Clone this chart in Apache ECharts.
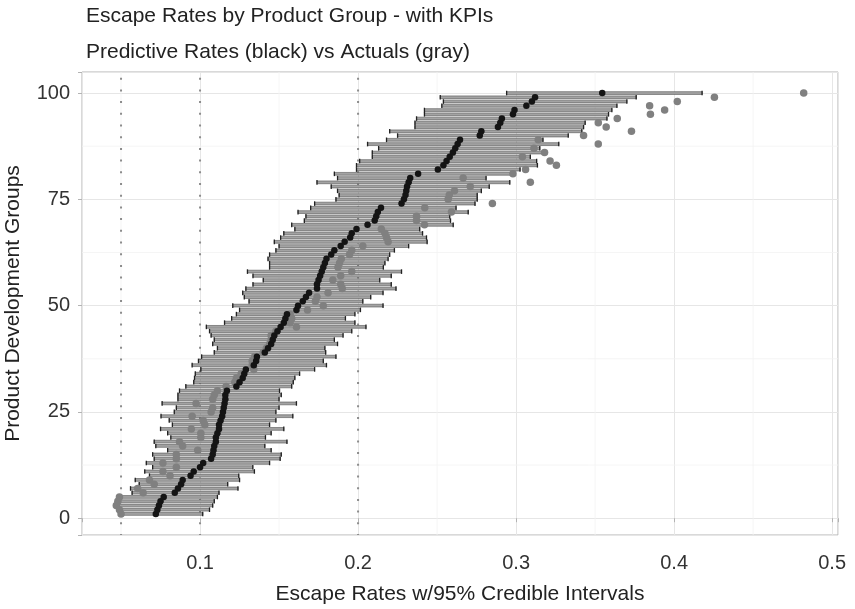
<!DOCTYPE html>
<html>
<head>
<meta charset="utf-8">
<title>Escape Rates by Product Group</title>
<script src="https://cdn.jsdelivr.net/npm/echarts@6/dist/echarts.min.js"></script>
<style>
  html, body { margin: 0; padding: 0; background: #fff; }
  #chart { width: 855px; height: 609px; }
</style>
</head>
<body>
<div id="chart"></div>
<script>
// product development groups 1..100 (row index on the y axis)
const groups = Array.from({ length: 100 }, (_, i) => i + 1);

// predictive rate per group (black dots)
const predicted = [
  0.072, 0.073, 0.074, 0.075, 0.077, 0.084, 0.086, 0.088, 0.089, 0.094,
  0.096, 0.100, 0.102, 0.107, 0.108, 0.1085, 0.109, 0.110, 0.110, 0.111,
  0.112, 0.112, 0.113, 0.114, 0.1145, 0.115, 0.1155, 0.116, 0.116, 0.117,
  0.123, 0.125, 0.127, 0.128, 0.129, 0.134, 0.1355, 0.136, 0.141, 0.143,
  0.145, 0.146, 0.147, 0.149, 0.151, 0.153, 0.154, 0.155, 0.161, 0.162,
  0.165, 0.167, 0.169, 0.174, 0.174, 0.175, 0.176, 0.177, 0.178, 0.179,
  0.180, 0.183, 0.185, 0.189, 0.1915, 0.195, 0.196, 0.199, 0.206, 0.2105,
  0.2115, 0.2125, 0.2145, 0.2275, 0.229, 0.230, 0.2305, 0.231, 0.232, 0.233,
  0.238, 0.2505, 0.254, 0.256, 0.258, 0.260, 0.2615, 0.263, 0.2645, 0.277,
  0.278, 0.2885, 0.290, 0.291, 0.298, 0.299, 0.3065, 0.310, 0.312, 0.3545
];

// 95% credible interval, lower end
const lower = [
  0.049, 0.048, 0.048, 0.048, 0.050, 0.057, 0.056, 0.0615, 0.059, 0.068,
  0.065, 0.070, 0.066, 0.071, 0.070, 0.0795, 0.072, 0.071, 0.0815, 0.0795,
  0.075, 0.0825, 0.0805, 0.0753, 0.0837, 0.085, 0.076, 0.086, 0.086, 0.087,
  0.091, 0.096, 0.0965, 0.097, 0.1005, 0.095, 0.099, 0.101, 0.109, 0.111,
  0.108, 0.109, 0.107, 0.106, 0.104, 0.1155, 0.120, 0.123, 0.125, 0.1207,
  0.131, 0.128, 0.127, 0.129, 0.1335, 0.140, 0.1335, 0.130, 0.144, 0.144,
  0.143, 0.144, 0.148, 0.150, 0.147, 0.151, 0.153, 0.160, 0.158, 0.166,
  0.167, 0.162, 0.170, 0.1725, 0.186, 0.188, 0.187, 0.183, 0.174, 0.187,
  0.185, 0.199, 0.199, 0.201, 0.209, 0.209, 0.213, 0.206, 0.218, 0.225,
  0.220, 0.236, 0.236, 0.237, 0.242, 0.242, 0.253, 0.254, 0.252, 0.294
];

// 95% credible interval, upper end
const upper = [
  0.1017, 0.106, 0.108, 0.109, 0.111, 0.112, 0.124, 0.1175, 0.125, 0.1245,
  0.1344, 0.1334, 0.144, 0.1507, 0.1514, 0.145, 0.141, 0.155, 0.1414, 0.145,
  0.153, 0.144, 0.148, 0.1587, 0.148, 0.150, 0.161, 0.150, 0.1514, 0.1503,
  0.158, 0.159, 0.160, 0.163, 0.1725, 0.180, 0.178, 0.186, 0.1795, 0.179,
  0.187, 0.185, 0.1905, 0.196, 0.205, 0.198, 0.192, 0.198, 0.2015, 0.2158,
  0.203, 0.208, 0.2158, 0.224, 0.221, 0.2137, 0.221, 0.2275, 0.216, 0.217,
  0.219, 0.220, 0.223, 0.232, 0.2437, 0.2433, 0.2408, 0.239, 0.2602, 0.2585,
  0.258, 0.2697, 0.262, 0.274, 0.2754, 0.2754, 0.278, 0.283, 0.296, 0.281,
  0.297, 0.3025, 0.3135, 0.313, 0.309, 0.317, 0.315, 0.327, 0.317, 0.333,
  0.3416, 0.3427, 0.3437, 0.3575, 0.3585, 0.3606, 0.3638, 0.3701, 0.376, 0.4177
];

// actual escape rate per group (gray dots)
const actual = [
  0.050, 0.049, 0.047, 0.048, 0.049, 0.064, 0.0605, 0.071, 0.068, 0.081,
  0.0765, 0.085, 0.0765, 0.085, 0.085, 0.0985, 0.089, 0.087, 0.1005, 0.1005,
  0.0945, 0.103, 0.102, 0.095, 0.107, 0.108, 0.0975, 0.108, 0.109, 0.111,
  0.1165, 0.122, 0.123, 0.126, 0.134, 0.133, 0.133, 0.1345, 0.140, 0.142,
  0.144, 0.145, 0.145, 0.148, 0.161, 0.157, 0.158, 0.157, 0.168, 0.178,
  0.173, 0.174, 0.181, 0.190, 0.189, 0.184, 0.189, 0.196, 0.1873, 0.1883,
  0.1894, 0.1946, 0.196, 0.203, 0.219, 0.218, 0.217, 0.2147, 0.242, 0.237,
  0.237, 0.2591, 0.2422, 0.285, 0.257, 0.2577, 0.261, 0.271, 0.309, 0.2665,
  0.298, 0.306, 0.3255, 0.3215, 0.304, 0.318, 0.3113, 0.352, 0.314, 0.3427,
  0.373, 0.357, 0.352, 0.364, 0.385, 0.394, 0.3845, 0.402, 0.4255, 0.482
];

// KPI reference lines (dotted) and minor grid breaks
const kpiLines = [0.05, 0.1, 0.2];
const xMinor = [0.05, 0.15, 0.25, 0.35, 0.45];
const yMinor = [12.5, 37.5, 62.5, 87.5];

const X_MIN = 0.0253, X_MAX = 0.5037;
const Y_MIN = -3.95, Y_MAX = 104.95;
const FONT = '"Liberation Sans", Arial, Helvetica, sans-serif';

// full-height vertical line at data x
function vLine(style) {
  return function (params, api) {
    const cs = params.coordSys;
    const x = api.coord([api.value(0), Y_MIN])[0];
    return { type: 'line', shape: { x1: x, y1: cs.y, x2: x, y2: cs.y + cs.height }, style: style };
  };
}

// full-width horizontal line at data y
function hLine(style) {
  return function (params, api) {
    const cs = params.coordSys;
    const y = api.coord([X_MIN, api.value(1)])[1];
    return { type: 'line', shape: { x1: cs.x, y1: y, x2: cs.x + cs.width, y2: y }, style: style };
  };
}

function renderInterval(params, api) {
  const g = api.value(2);
  const p0 = api.coord([api.value(0), g]);
  const p1 = api.coord([api.value(1), g]);
  const cap = 2.3;
  return {
    type: 'group',
    children: [
      {
        type: 'rect',
        shape: { x: p0[0], y: p0[1] - 1.4, width: p1[0] - p0[0], height: 2.8 },
        style: { fill: '#a3a3a3', stroke: '#474747', lineWidth: 0.55 }
      },
      {
        type: 'line',
        shape: { x1: p0[0], y1: p0[1] - cap, x2: p0[0], y2: p0[1] + cap },
        style: { stroke: '#222', lineWidth: 1.3 }
      },
      {
        type: 'line',
        shape: { x1: p1[0], y1: p1[1] - cap, x2: p1[0], y2: p1[1] + cap },
        style: { stroke: '#222', lineWidth: 1.3 }
      }
    ]
  };
}

const intervals = groups.map((g, i) => [lower[i], upper[i], g]);
const predPoints = groups.map((g, i) => [predicted[i], g]);
const actualPoints = groups.map((g, i) => [actual[i], g]);

const minorStyle = { stroke: '#f3f3f3', lineWidth: 0.8 };
const kpiStyle = { stroke: '#8c8c8c', lineWidth: 2, lineDash: [2, 9.7], lineDashOffset: 6 };

const option = {
  animation: false,
  backgroundColor: '#fff',
  textStyle: { fontFamily: FONT },
  title: [
    {
      text: 'Escape Rates by Product Group - with KPIs',
      left: 86,
      top: 6,
      padding: 0,
      textStyle: { fontFamily: FONT, fontSize: 21, fontWeight: 'normal', color: '#222' }
    },
    {
      text: 'Predictive Rates (black) vs Actuals (gray)',
      left: 86,
      top: 42,
      padding: 0,
      textStyle: { fontFamily: FONT, fontSize: 21, fontWeight: 'normal', color: '#222' }
    }
  ],
  grid: {
    left: 82,
    right: 17,
    top: 72,
    bottom: 74,
    outerBoundsMode: 'none',
    containLabel: false,
    show: true,
    backgroundColor: '#fff',
    borderColor: '#b3b3b3',
    borderWidth: 1
  },
  xAxis: {
    type: 'value',
    min: X_MIN,
    max: X_MAX,
    splitNumber: 5,
    minInterval: 0.1,
    maxInterval: 0.1,
    name: 'Escape Rates w/95% Credible Intervals',
    nameLocation: 'middle',
    nameGap: 49,
    nameTextStyle: { fontFamily: FONT, fontSize: 21, color: '#222' },
    axisLine: { show: false },
    axisTick: { show: true, length: 4, lineStyle: { color: '#b3b3b3' } },
    axisLabel: {
      fontFamily: FONT,
      fontSize: 20,
      color: '#333',
      margin: 18,
      formatter: v => Math.abs(v * 10 - Math.round(v * 10)) < 1e-6 ? v.toFixed(1) : ''
    },
    splitLine: { show: true, lineStyle: { color: '#e6e6e6', width: 1 } }
  },
  yAxis: {
    type: 'value',
    min: Y_MIN,
    max: Y_MAX,
    splitNumber: 5,
    minInterval: 25,
    maxInterval: 25,
    name: 'Product Development Groups',
    nameLocation: 'middle',
    nameGap: 58,
    nameTextStyle: { fontFamily: FONT, fontSize: 21, color: '#222' },
    axisLine: { show: false },
    axisTick: { show: true, length: 4, lineStyle: { color: '#b3b3b3' } },
    axisLabel: {
      fontFamily: FONT,
      fontSize: 20,
      color: '#333',
      margin: 12,
      formatter: v => Math.abs(v / 25 - Math.round(v / 25)) < 1e-6 ? String(Math.round(v)) : ''
    },
    splitLine: { show: true, lineStyle: { color: '#e6e6e6', width: 1 } }
  },
  series: [
    {
      name: 'minor-x',
      type: 'custom',
      silent: true,
      renderItem: vLine(minorStyle),
      encode: { x: 0, y: 1 },
      data: xMinor.map(v => [v, Y_MIN]),
      z: 1
    },
    {
      name: 'minor-y',
      type: 'custom',
      silent: true,
      renderItem: hLine(minorStyle),
      encode: { x: 0, y: 1 },
      data: yMinor.map(v => [X_MIN, v]),
      z: 1
    },
    {
      name: 'kpi',
      type: 'custom',
      silent: true,
      renderItem: vLine(kpiStyle),
      encode: { x: 0, y: 1 },
      data: kpiLines.map(v => [v, Y_MIN]),
      z: 2
    },
    {
      name: 'interval',
      type: 'custom',
      renderItem: renderInterval,
      encode: { x: [0, 1], y: 2 },
      data: intervals,
      z: 3
    },
    {
      name: 'actual',
      type: 'scatter',
      data: actualPoints,
      symbol: 'circle',
      symbolSize: 7.5,
      itemStyle: { color: '#808080', opacity: 1 },
      z: 4
    },
    {
      name: 'predicted',
      type: 'scatter',
      data: predPoints,
      symbol: 'circle',
      symbolSize: 6.5,
      itemStyle: { color: '#141414', opacity: 1 },
      z: 5
    }
  ]
};

const myChart = echarts.init(document.getElementById('chart'), null, { renderer: 'canvas' });
myChart.setOption(option);
</script>
</body>
</html>
